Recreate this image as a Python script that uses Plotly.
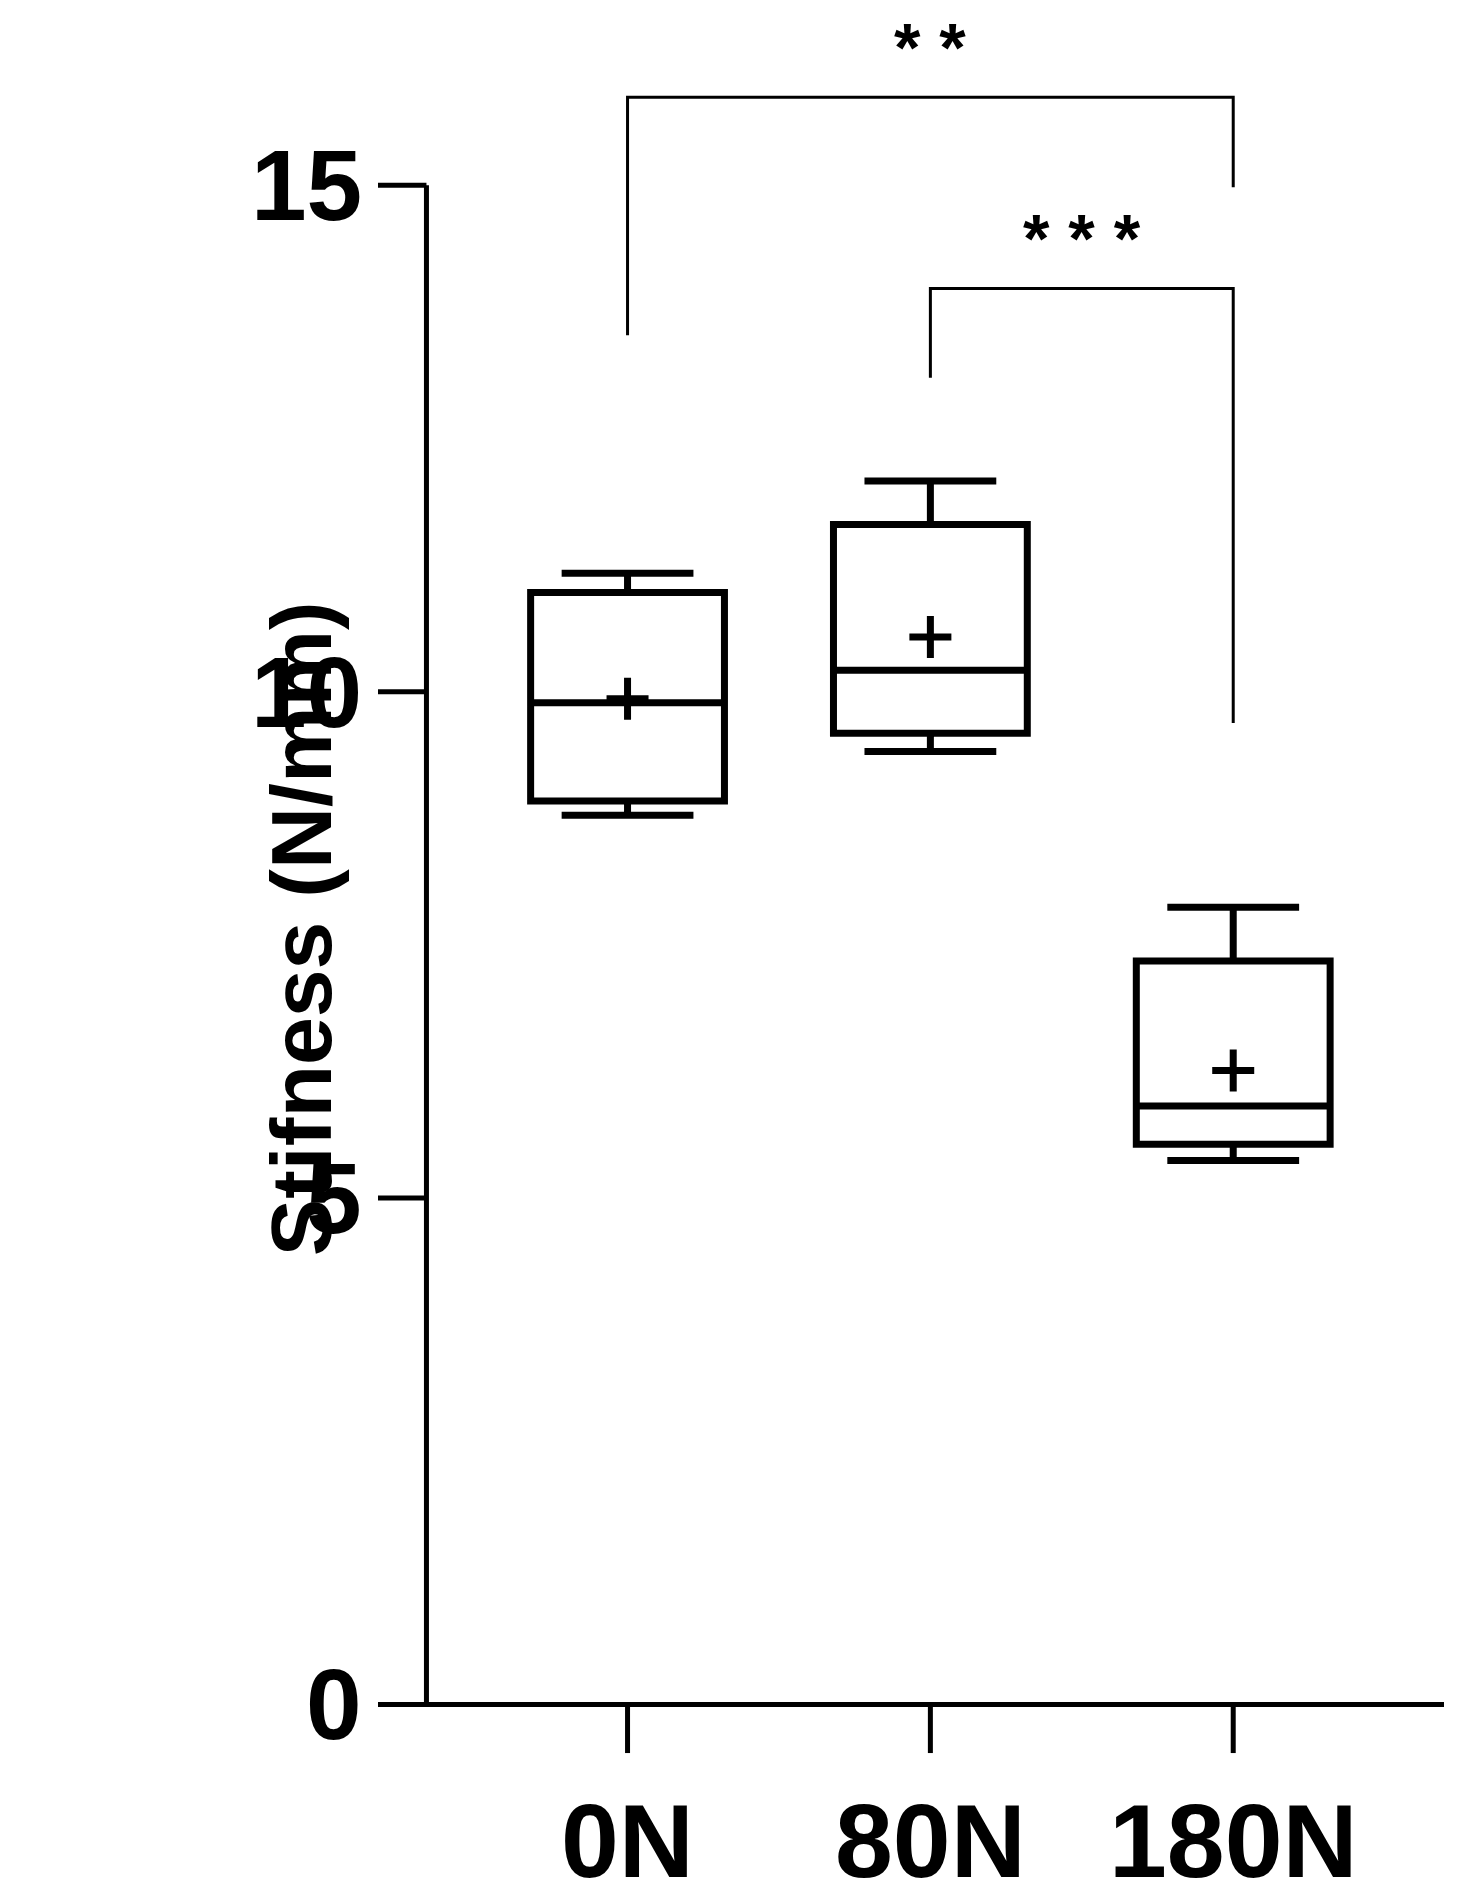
import plotly.graph_objects as go

categories = ["0N", "80N", "180N"]
xpos = [0, 1, 2]
lower = [8.78, 9.41, 5.37]
q1 = [8.92, 9.59, 5.53]
median = [9.89, 10.21, 5.91]
q3 = [10.98, 11.65, 7.34]
upper = [11.17, 12.08, 7.87]
means = [9.93, 10.54, 6.26]
yticks = [0, 5, 10, 15]
brackets = [  # (x0, x1, top, left_end, right_end, label)
    (0, 2, 15.87, 13.52, 14.98, "* *"),
    (1, 2, 13.98, 13.10, 9.69, "* * *"),
]

F = "Liberation Sans, Arial, sans-serif"
XR = [-0.824, 2.696]
def px(x):
    return (x - XR[0]) / (XR[1] - XR[0])

fig = go.Figure()
for i in range(3):
    fig.add_trace(go.Box(x=[xpos[i]], q1=[q1[i]], median=[median[i]], q3=[q3[i]],
                         lowerfence=[lower[i]], upperfence=[upper[i]],
                         width=0.64, whiskerwidth=0.68, fillcolor="white",
                         line=dict(color="black", width=7), showlegend=False))
fig.add_trace(go.Scatter(x=xpos, y=means, mode="markers", showlegend=False,
                         marker=dict(symbol="cross-thin", size=30, line=dict(color="black", width=7))))

ax = -0.664
shapes = [dict(type="line", x0=ax, x1=ax, y0=0, y1=15, line=dict(width=5, color="black")),
          dict(type="line", x0=XR[0], x1=XR[1], y0=0, y1=0, line=dict(width=5, color="black"))]
ann = []
for t in yticks:
    shapes.append(dict(type="line", x0=XR[0], x1=ax, y0=t, y1=t, line=dict(width=5, color="black")))
    ann.append(dict(x=px(-0.87), xref="paper", y=t, text="<b>%d</b>" % t, showarrow=False,
                    xanchor="right", font=dict(family=F, size=100, color="black")))
for x, c in zip(xpos, categories):
    shapes.append(dict(type="line", x0=x, x1=x, y0=0, y1=-0.48, line=dict(width=5, color="black")))
    ann.append(dict(x=x, y=-1.35, text="<b>%s</b>" % c, showarrow=False,
                    font=dict(family=F, size=104, color="black")))
for x0, x1, top, le, re, lab in brackets:
    shapes.append(dict(type="path", path=f"M {x0},{le} L {x0},{top} L {x1},{top} L {x1},{re}",
                       line=dict(width=3, color="black")))
    ann.append(dict(x=(x0 + x1) / 2, y=top + 0.1, text="<b>%s</b>" % lab, showarrow=False,
                    yanchor="bottom", font=dict(family=F, size=68, color="black")))
ann.append(dict(x=px(-1.245), xref="paper", y=7.66, text="<b>Stifness (N/mm)</b>", textangle=-90,
                showarrow=False, font=dict(family=F, size=86, color="black")))

fig.update_layout(width=1466, height=1899, margin=dict(l=370, r=30, t=0, b=0),
                  plot_bgcolor="white", paper_bgcolor="white", shapes=shapes, annotations=ann,
                  xaxis=dict(range=XR, visible=False),
                  yaxis=dict(range=[-2.0, 16.75], visible=False))
fig.write_html("out.html")
